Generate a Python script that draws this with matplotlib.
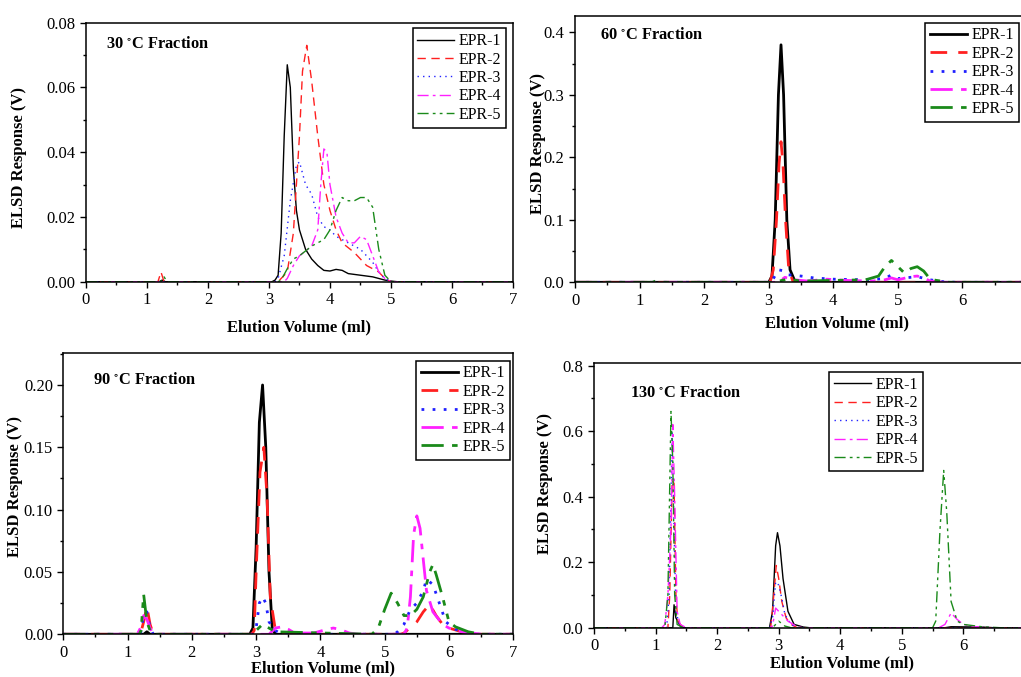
import matplotlib
matplotlib.use("Agg")
import matplotlib.pyplot as plt
from matplotlib.ticker import MultipleLocator, FormatStrFormatter

plt.rcParams['font.family'] = ['Liberation Serif', 'DejaVu Serif']
plt.rcParams['mathtext.fontset'] = 'stix'

labels = ['EPR-1', 'EPR-2', 'EPR-3', 'EPR-4', 'EPR-5']
colors = ['black', '#ff2020', '#2020ff', '#ff20ff', '#1a8a1a']
dashes = [(None, None), (6, 4), (1, 3), (8, 3, 2, 3), (8, 3, 2, 3, 2, 3)]

# ---- 30 C fraction ----
f30_x1 = [0, 1.2, 1.25, 1.3, 3.05, 3.1, 3.15, 3.2, 3.25, 3.3, 3.35, 3.4, 3.45, 3.5, 3.6, 3.7, 3.8, 3.9, 4.0, 4.1, 4.2, 4.3, 4.5, 4.7, 4.9, 5.0, 5.1, 7]
f30_y1 = [0, 0, 0.0005, 0, 0, 0.0005, 0.002, 0.015, 0.045, 0.067, 0.060, 0.035, 0.022, 0.016, 0.010, 0.007, 0.005, 0.0035, 0.0033, 0.0038, 0.0035, 0.0025, 0.002, 0.0015, 0.0005, 0.0002, 0, 0]
f30_x2 = [0, 1.18, 1.23, 1.28, 3.15, 3.2, 3.3, 3.4, 3.5, 3.55, 3.62, 3.7, 3.8, 3.9, 4.0, 4.1, 4.2, 4.4, 4.6, 4.8, 4.9, 5.0, 7]
f30_y2 = [0, 0, 0.003, 0, 0, 0.001, 0.003, 0.015, 0.045, 0.065, 0.073, 0.062, 0.045, 0.030, 0.022, 0.016, 0.012, 0.009, 0.005, 0.003, 0.001, 0, 0]
f30_x3 = [0, 3.1, 3.15, 3.25, 3.35, 3.45, 3.5, 3.6, 3.7, 3.8, 3.9, 4.0, 4.1, 4.3, 4.5, 4.7, 4.8, 4.9, 5.0, 7]
f30_y3 = [0, 0, 0.001, 0.008, 0.025, 0.036, 0.037, 0.030, 0.027, 0.020, 0.017, 0.016, 0.014, 0.012, 0.010, 0.006, 0.003, 0.001, 0, 0]
f30_x4 = [0, 3.25, 3.3, 3.4, 3.5, 3.7, 3.8, 3.85, 3.9, 3.95, 4.0, 4.1, 4.2, 4.3, 4.4, 4.5, 4.6, 4.7, 4.8, 4.9, 5.0, 7]
f30_y4 = [0, 0, 0.001, 0.005, 0.008, 0.011, 0.016, 0.030, 0.041, 0.040, 0.030, 0.020, 0.015, 0.012, 0.012, 0.014, 0.013, 0.008, 0.003, 0.001, 0, 0]
f30_x5 = [0, 1.23, 1.28, 1.33, 3.15, 3.2, 3.3, 3.4, 3.5, 3.7, 3.9, 4.0, 4.1, 4.2, 4.3, 4.4, 4.5, 4.6, 4.7, 4.8, 4.9, 5.0, 7]
f30_y5 = [0, 0, 0.0015, 0, 0, 0.0005, 0.004, 0.007, 0.008, 0.011, 0.013, 0.016, 0.022, 0.026, 0.025, 0.025, 0.026, 0.026, 0.023, 0.010, 0.002, 0, 0]

# ---- 60 C fraction ----
f60_x1 = [0, 3.0, 3.05, 3.1, 3.15, 3.19, 3.23, 3.28, 3.33, 3.4, 3.5, 7]
f60_y1 = [0, 0, 0.01, 0.10, 0.30, 0.38, 0.30, 0.10, 0.02, 0.003, 0, 0]
f60_x2 = [0, 3.02, 3.07, 3.12, 3.16, 3.19, 3.22, 3.26, 3.31, 3.38, 7]
f60_y2 = [0, 0, 0.02, 0.10, 0.19, 0.225, 0.19, 0.10, 0.02, 0, 0]
f60_x3 = [0, 3.0, 3.05, 3.15, 3.25, 3.3, 3.5, 3.7, 4.0, 4.5, 4.8, 4.9, 5.0, 5.2, 5.3, 5.5, 5.7, 5.9, 7]
f60_y3 = [0, 0, 0.002, 0.02, 0.018, 0.012, 0.010, 0.007, 0.005, 0.004, 0.006, 0.012, 0.006, 0.008, 0.009, 0.004, 0.001, 0, 0]
f60_x4 = [0, 3.15, 3.25, 3.4, 3.6, 3.9, 4.2, 4.6, 4.8, 4.9, 5.0, 5.2, 5.3, 5.4, 5.5, 5.7, 7]
f60_y4 = [0, 0, 0.008, 0.004, 0.002, 0.005, 0.003, 0.002, 0.004, 0.007, 0.004, 0.009, 0.010, 0.007, 0.002, 0, 0]
f60_x5 = [0, 1.2, 1.25, 1.3, 3.1, 3.2, 3.3, 3.5, 4.0, 4.5, 4.7, 4.8, 4.9, 5.0, 5.1, 5.2, 5.3, 5.4, 5.5, 5.6, 5.8, 7]
f60_y5 = [0, 0, 0.002, 0, 0, 0.003, 0.005, 0.002, 0.003, 0.004, 0.010, 0.025, 0.035, 0.025, 0.015, 0.022, 0.025, 0.018, 0.005, 0.003, 0, 0]

# ---- 90 C fraction ----
f90_x1 = [0, 1.25, 1.3, 1.35, 2.9, 2.95, 3.0, 3.05, 3.1, 3.15, 3.2, 3.25, 3.3, 7]
f90_y1 = [0, 0, 0.002, 0, 0, 0.005, 0.07, 0.17, 0.20, 0.15, 0.05, 0.005, 0, 0]
f90_x2 = [0, 1.2, 1.25, 1.3, 1.35, 1.4, 2.93, 2.97, 3.0, 3.06, 3.12, 3.17, 3.22, 3.3, 3.4, 5.25, 5.3, 5.5, 5.6, 5.7, 5.8, 5.9, 6.0, 6.2, 6.4, 7]
f90_y2 = [0, 0, 0.010, 0.022, 0.008, 0, 0, 0.003, 0.05, 0.13, 0.15, 0.11, 0.03, 0.003, 0, 0, 0.001, 0.010, 0.018, 0.024, 0.015, 0.008, 0.005, 0.002, 0, 0]
f90_x3 = [0, 1.2, 1.25, 1.3, 1.35, 1.4, 2.95, 3.0, 3.05, 3.1, 3.15, 3.2, 3.3, 3.4, 5.15, 5.2, 5.3, 5.4, 5.5, 5.6, 5.65, 5.75, 5.85, 5.95, 6.1, 6.3, 6.4, 7]
f90_y3 = [0, 0, 0.015, 0.018, 0.005, 0, 0, 0.005, 0.025, 0.030, 0.025, 0.010, 0.003, 0, 0, 0.002, 0.008, 0.020, 0.025, 0.035, 0.044, 0.040, 0.025, 0.010, 0.004, 0.001, 0, 0]
f90_x4 = [0, 1.15, 1.2, 1.25, 1.3, 1.35, 1.4, 3.2, 3.3, 3.4, 3.5, 3.6, 3.9, 4.1, 4.2, 4.3, 4.45, 4.6, 5.3, 5.35, 5.4, 5.45, 5.5, 5.55, 5.6, 5.65, 5.75, 5.9, 6.0, 6.2, 6.5, 7]
f90_y4 = [0, 0, 0.005, 0.015, 0.012, 0.005, 0, 0, 0.005, 0.006, 0.004, 0.001, 0.001, 0.004, 0.005, 0.004, 0.001, 0, 0, 0.005, 0.030, 0.080, 0.095, 0.085, 0.060, 0.035, 0.018, 0.008, 0.005, 0.002, 0, 0]
f90_x5 = [0, 1.18, 1.21, 1.25, 1.3, 1.35, 1.4, 2.95, 3.0, 3.1, 3.2, 3.3, 4.8, 4.9, 5.0, 5.1, 5.2, 5.3, 5.4, 5.5, 5.6, 5.7, 5.75, 5.8, 5.9, 6.0, 6.1, 6.3, 6.5, 7]
f90_y5 = [0, 0, 0.003, 0.032, 0.010, 0.003, 0, 0, 0.003, 0.008, 0.005, 0.002, 0, 0.005, 0.020, 0.033, 0.025, 0.015, 0.015, 0.020, 0.030, 0.050, 0.056, 0.048, 0.030, 0.010, 0.006, 0.002, 0, 0]

# ---- 130 C fraction ----
f130_x1 = [0, 1.28, 1.3, 1.33, 1.4, 1.45, 2.85, 2.9, 2.95, 2.98, 3.02, 3.07, 3.15, 3.25, 3.4, 3.5, 5.7, 5.8, 6.3, 6.5, 7]
f130_y1 = [0, 0, 0.07, 0.03, 0.005, 0, 0, 0.05, 0.25, 0.29, 0.25, 0.15, 0.05, 0.01, 0.002, 0, 0, 0.003, 0.002, 0, 0]
f130_x2 = [0, 1.2, 1.23, 1.27, 1.3, 1.33, 1.36, 1.45, 2.87, 2.92, 2.96, 3.0, 3.05, 3.12, 3.2, 3.3, 7]
f130_y2 = [0, 0, 0.10, 0.45, 0.44, 0.10, 0.02, 0, 0, 0.10, 0.19, 0.15, 0.08, 0.03, 0.01, 0, 0]
f130_x3 = [0, 1.18, 1.22, 1.27, 1.3, 1.33, 1.4, 2.85, 2.9, 2.95, 3.0, 3.05, 3.1, 3.2, 3.3, 7]
f130_y3 = [0, 0, 0.10, 0.60, 0.30, 0.05, 0, 0, 0.03, 0.14, 0.13, 0.09, 0.04, 0.01, 0, 0]
f130_x4 = [0, 1.1, 1.15, 1.2, 1.25, 1.28, 1.31, 1.35, 1.4, 1.5, 2.85, 2.9, 2.95, 3.0, 3.05, 3.15, 3.3, 3.4, 5.6, 5.7, 5.8, 5.9, 6.0, 6.2, 6.5, 7]
f130_y4 = [0, 0, 0.01, 0.10, 0.30, 0.62, 0.40, 0.05, 0.01, 0, 0, 0.005, 0.06, 0.05, 0.04, 0.02, 0.003, 0, 0, 0.010, 0.045, 0.025, 0.010, 0.003, 0, 0]
f130_x5 = [0, 1.15, 1.2, 1.25, 1.28, 1.31, 1.35, 1.45, 2.9, 2.95, 3.0, 3.1, 3.2, 5.5, 5.55, 5.62, 5.68, 5.73, 5.8, 5.9, 6.0, 6.3, 6.6, 7]
f130_y5 = [0, 0, 0.10, 0.66, 0.50, 0.10, 0.01, 0, 0, 0.01, 0.02, 0.005, 0, 0, 0.02, 0.30, 0.48, 0.35, 0.08, 0.02, 0.01, 0.003, 0, 0]

fig = plt.figure(figsize=(10.21, 6.77), dpi=100, facecolor='white')


def panel(rect, xs, ys, lw, ymax, ymaj, ymin, yfmt, title, title_pos,
          leg_anchor, ylab_pos, xlab_pos):
    ax = fig.add_axes(rect)
    for x, y, c, d, lab in zip(xs, ys, colors, dashes, labels):
        line, = ax.plot(x, y, color=c, lw=lw, label=lab)
        if d[0] is not None:
            line.set_dashes(d)
    ax.set_xlim(0, 7)
    ax.set_ylim(0, ymax)
    ax.xaxis.set_major_locator(MultipleLocator(1))
    ax.xaxis.set_minor_locator(MultipleLocator(0.5))
    ax.yaxis.set_major_locator(MultipleLocator(ymaj))
    ax.yaxis.set_minor_locator(MultipleLocator(ymin))
    ax.yaxis.set_major_formatter(FormatStrFormatter(yfmt))
    ax.tick_params(which='major', direction='out', length=4, width=1, labelsize=12)
    ax.tick_params(which='minor', direction='out', length=2.5, width=1)
    for s in ax.spines.values():
        s.set_linewidth(1.1)
    ax.text(title_pos[0], title_pos[1], title, transform=ax.transAxes,
            fontsize=11.8, fontweight='bold', va='center', ha='left')
    ax.set_xlabel('Elution Volume (ml)', fontsize=12, fontweight='bold')
    ax.set_ylabel('ELSD Response (V)', fontsize=12, fontweight='bold')
    ax.xaxis.set_label_coords(xlab_pos[0], xlab_pos[1])
    ax.yaxis.set_label_coords(ylab_pos[0], ylab_pos[1])
    leg = ax.legend(loc='upper right', bbox_to_anchor=leg_anchor, fontsize=11.5,
                    fancybox=False, framealpha=1, edgecolor='black',
                    handlelength=2.3, handletextpad=0.3, labelspacing=0.15,
                    borderpad=0.3, borderaxespad=0)
    leg.get_frame().set_linewidth(1.1)
    return ax


panel([0.0842, 0.5839, 0.4182, 0.3826],
      [f30_x1, f30_x2, f30_x3, f30_x4, f30_x5],
      [f30_y1, f30_y2, f30_y3, f30_y4, f30_y5],
      1.0, 0.08, 0.02, 0.01, '%.2f', r'30 $^{\circ}$C Fraction', (0.047, 0.919),
      (0.984, 0.978), (-0.138, 0.48), (0.5, -0.144))

panel([0.5632, 0.583, 0.4427, 0.3938],
      [f60_x1, f60_x2, f60_x3, f60_x4, f60_x5],
      [f60_y1, f60_y2, f60_y3, f60_y4, f60_y5],
      2.0, 0.4266, 0.1, 0.05, '%.1f', r'60 $^{\circ}$C Fraction', (0.055, 0.928),
      (0.982, 0.974), (-0.064, 0.52), (0.579, -0.124))

panel([0.062, 0.0631, 0.4407, 0.415],
      [f90_x1, f90_x2, f90_x3, f90_x4, f90_x5],
      [f90_y1, f90_y2, f90_y3, f90_y4, f90_y5],
      2.0, 0.2254, 0.05, 0.025, '%.2f', r'90 $^{\circ}$C Fraction', (0.067, 0.905),
      (0.993, 0.974), (-0.09, 0.525), (0.577, -0.0925))

panel([0.5818, 0.0728, 0.4221, 0.3906],
      [f130_x1, f130_x2, f130_x3, f130_x4, f130_x5],
      [f130_y1, f130_y2, f130_y3, f130_y4, f130_y5],
      1.0, 0.807, 0.2, 0.1, '%.1f', r'130 $^{\circ}$C Fraction', (0.0835, 0.886),
      (0.763, 0.966), (-0.095, 0.546), (0.575, -0.104))

fig.savefig('out.png', dpi=100, facecolor='white')
